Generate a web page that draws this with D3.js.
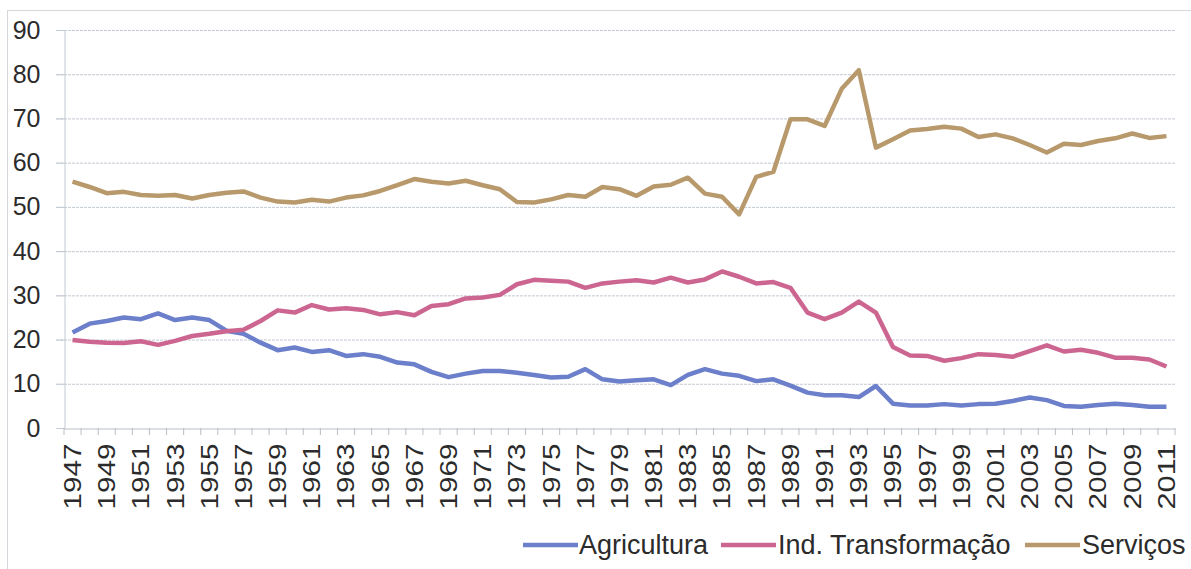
<!DOCTYPE html>
<html>
<head>
<meta charset="utf-8">
<script src="https://cdn.jsdelivr.net/npm/d3@7"></script>
<style>
  body { margin: 0; background: #fff; }
  svg text { font-family: "Liberation Sans", Arial, sans-serif; fill: #2b2b2b; }
</style>
</head>
<body>
<div id="vis"></div>
<script>
var width = 1191;
var height = 569;

var years = d3.range(1947, 2012);
var yTicks = [0, 10, 20, 30, 40, 50, 60, 70, 80, 90];
var seriesNames = ["Agricultura", "Ind. Transformação", "Serviços"];

var agricultura = [21.6, 23.6, 24.2, 25.0, 24.6, 25.9, 24.4, 25.0, 24.4, 22.0, 21.3,
  19.3, 17.6, 18.2, 17.2, 17.6, 16.3, 16.7, 16.1, 14.8, 14.4,
  12.7, 11.5, 12.3, 12.9, 12.9, 12.5, 12.0, 11.4, 11.6, 13.3,
  11.0, 10.5, 10.8, 11.0, 9.7, 12.0, 13.3, 12.3, 11.8, 10.6,
  11.0, 9.6, 8.0, 7.4, 7.4, 7.0, 9.5, 5.5, 5.1, 5.1,
  5.4, 5.1, 5.4, 5.5, 6.1, 6.9, 6.3, 5.0, 4.8, 5.2,
  5.5, 5.2, 4.8, 4.8];

var industria = [19.9, 19.5, 19.3, 19.2, 19.6, 18.8, 19.7, 20.8, 21.3, 21.9, 22.2,
  24.2, 26.6, 26.1, 27.8, 26.8, 27.1, 26.7, 25.7, 26.2, 25.5,
  27.6, 28.0, 29.3, 29.5, 30.1, 32.5, 33.5, 33.3, 33.1, 31.7,
  32.7, 33.1, 33.4, 32.9, 34.0, 32.9, 33.6, 35.4, 34.2, 32.7,
  33.0, 31.7, 26.1, 24.6, 26.1, 28.6, 26.1, 18.3, 16.4, 16.3,
  15.2, 15.8, 16.7, 16.5, 16.1, 17.4, 18.7, 17.3, 17.7, 17.0,
  15.9, 15.9, 15.5, 13.9];

var servicos = [55.7, 54.5, 53.1, 53.4, 52.7, 52.5, 52.7, 51.9, 52.7, 53.2, 53.5,
  52.1, 51.2, 51.0, 51.6, 51.2, 52.1, 52.6, 53.6, 54.9, 56.3,
  55.7, 55.3, 55.9, 54.9, 54.0, 51.1, 51.0, 51.7, 52.7, 52.3,
  54.5, 54.0, 52.5, 54.6, 55.0, 56.6, 53.0, 52.3, 48.3, 56.8,
  57.9, 69.8, 69.8, 68.3, 76.7, 80.9, 63.4, 65.3, 67.3, 67.6,
  68.1, 67.7, 65.8, 66.4, 65.5, 64.0, 62.3, 64.3, 64.0, 64.9,
  65.5, 66.6, 65.6, 66.0];

var colors = ["#6b7fca", "#cc6690", "#b8996b"];

var svg = d3.select("#vis")
  .append("svg")
  .attr("width", width)
  .attr("height", height);

// outer frame
svg.append("rect")
  .attr("x", 7.5).attr("y", 10.5)
  .attr("width", 1200).attr("height", 600)
  .attr("fill", "none")
  .attr("stroke", "#d4d8dc");

var plotLeft = 64, plotRight = 1175, plotTop = 30, plotBottom = 428;

var xScale = d3.scaleBand()
  .domain(years)
  .range([plotLeft, plotRight])
  .padding(0);

var yScale = d3.scaleLinear()
  .domain([0, 90])
  .range([plotBottom, plotTop]);

// gridlines
svg.append("g")
  .selectAll("line")
  .data(yTicks.filter(d => d > 0))
  .join("line")
  .attr("x1", plotLeft - 8)
  .attr("x2", plotRight)
  .attr("y1", d => yScale(d) + 0.5)
  .attr("y2", d => yScale(d) + 0.5)
  .attr("stroke", "#c3cad3")
  .attr("stroke-width", 1)
  .attr("stroke-dasharray", "3,1");

// y axis
var yAxis = d3.axisLeft(yScale)
  .tickValues(yTicks)
  .tickSize(8)
  .tickPadding(16);

var yG = svg.append("g")
  .attr("transform", `translate(${plotLeft + 0.5},0)`)
  .call(yAxis);
yG.select(".domain").attr("stroke", "#c3cad3");
yG.selectAll(".tick line").attr("stroke", "#c3cad3");
yG.selectAll("text")
  .style("font-size", "25px")
  .style("font-family", "Liberation Sans, Arial, sans-serif")
  .style("fill", "#2b2b2b");

// x axis
var xAxis = d3.axisBottom(xScale)
  .tickValues(years.filter((d, i) => i % 2 == 0))
  .tickSize(0)
  .tickPadding(0);

var xG = svg.append("g")
  .attr("transform", `translate(0,${plotBottom + 0.5})`)
  .call(xAxis);
xG.select(".domain").attr("stroke", "#b8bec6");
xG.selectAll("text")
  .attr("transform", "rotate(-90)")
  .attr("text-anchor", "end")
  .attr("x", -15)
  .attr("y", 0)
  .attr("dy", "0.35em")
  .attr("textLength", 66)
  .attr("lengthAdjust", "spacingAndGlyphs")
  .style("font-size", "24px")
  .style("font-family", "Liberation Sans, Arial, sans-serif")
  .style("fill", "#2b2b2b");

// category ticks
svg.append("g")
  .selectAll("line")
  .data(years.concat([null]))
  .join("line")
  .attr("x1", d => d == null ? plotRight : xScale(d))
  .attr("x2", d => d == null ? plotRight : xScale(d))
  .attr("y1", plotBottom)
  .attr("y2", plotBottom + 7)
  .attr("stroke", "#b8bec6");

// lines
var all = [agricultura, industria, servicos];
var line = d3.line()
  .x((d, i) => xScale(years[i]) + xScale.bandwidth() / 2)
  .y(d => yScale(d));

svg.append("g")
  .selectAll("path")
  .data(all)
  .join("path")
  .attr("d", d => line(d))
  .attr("fill", "none")
  .attr("stroke", (d, i) => colors[i])
  .attr("stroke-width", 4.5)
  .attr("stroke-linejoin", "round");

// legend
var legendItems = [
  { x: 523, tx: 579 },
  { x: 721, tx: 778 },
  { x: 1025, tx: 1082 }
];
var legend = svg.append("g")
  .selectAll("g")
  .data(seriesNames)
  .join("g");
legend.append("line")
  .attr("x1", (d, i) => legendItems[i].x)
  .attr("x2", (d, i) => legendItems[i].x + 55)
  .attr("y1", 545)
  .attr("y2", 545)
  .attr("stroke", (d, i) => colors[i])
  .attr("stroke-width", 4.5);
legend.append("text")
  .attr("x", (d, i) => legendItems[i].tx)
  .attr("y", 545)
  .attr("dy", "0.35em")
  .style("font-size", "27px")
  .text(d => d);
</script>
</body>
</html>
